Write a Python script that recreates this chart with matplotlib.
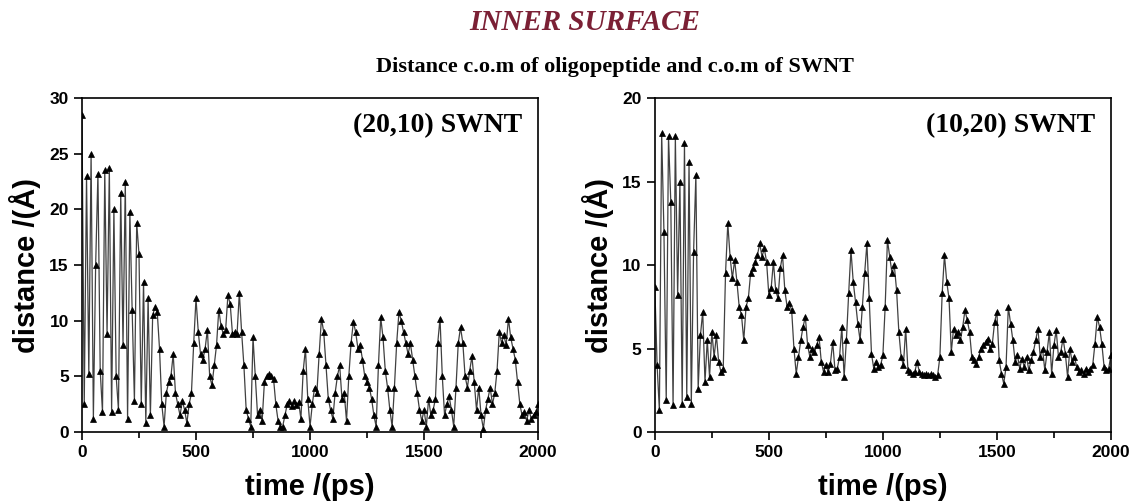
import numpy as np
import matplotlib
matplotlib.use("Agg")
import matplotlib.pyplot as plt
from matplotlib.ticker import MultipleLocator

# time axis (ps), 10 ps steps
time_ps = np.arange(0, 2001, 10)

# (20,10) SWNT, distance in Angstrom
dist_20_10 = [
    28.5, 2.5, 23.0, 5.2, 25.0, 1.2, 15.0, 23.2, 5.5, 1.8,
    23.5, 8.8, 23.7, 1.8, 20.0, 5.0, 2.0, 21.5, 7.8, 22.5,
    1.2, 19.8, 11.0, 2.8, 18.8, 16.0, 2.5, 13.5, 0.8, 12.0,
    1.5, 10.5, 11.2, 10.8, 7.5, 2.5, 0.5, 3.5, 4.5, 5.0,
    7.0, 3.5, 2.5, 1.5, 2.8, 2.0, 0.8, 2.5, 3.5, 8.0,
    12.0, 9.0, 7.0, 6.5, 7.5, 9.2, 5.0, 4.2, 6.0, 7.8,
    11.0, 9.5, 8.8, 9.2, 12.3, 11.5, 8.8, 9.0, 8.8, 12.5,
    9.0, 6.0, 2.0, 1.2, 0.5, 8.5, 5.0, 1.5, 2.0, 1.0,
    4.5, 5.0, 5.2, 5.0, 4.8, 2.5, 1.0, 0.5, 0.5, 1.5,
    2.5, 2.8, 2.3, 2.8, 2.4, 2.7, 1.2, 5.5, 7.5, 3.0,
    0.5, 2.5, 4.0, 3.5, 7.0, 10.2, 9.0, 6.0, 3.0, 2.0,
    1.2, 3.5, 5.0, 6.0, 3.0, 3.5, 1.0, 5.0, 8.0, 9.9,
    9.0, 7.5, 7.8, 6.5, 5.0, 4.5, 4.0, 3.0, 1.5, 0.5,
    6.0, 10.3, 8.5, 5.5, 4.0, 2.0, 0.5, 4.0, 8.0, 10.8,
    10.0, 9.0, 8.0, 7.0, 8.0, 6.5, 5.0, 3.5, 2.0, 1.0,
    2.0, 0.5, 3.0, 1.5, 2.0, 3.0, 8.0, 10.2, 5.0, 1.5,
    2.5, 3.2, 2.0, 0.5, 4.0, 8.0, 9.4, 8.0, 5.0, 4.0,
    5.5, 6.8, 4.5, 2.0, 4.0, 1.5, 0.3, 2.0, 3.0, 4.0,
    2.5, 3.5, 5.5, 9.0, 8.0, 8.7, 7.8, 10.2, 8.5, 7.5,
    6.5, 4.5, 2.5, 1.5, 1.8, 1.0, 2.0, 1.2, 1.5, 1.8,
    2.5,
]

# (10,20) SWNT, distance in Angstrom
dist_10_20 = [
    8.7, 4.0, 1.3, 17.9, 12.0, 1.9, 17.7, 13.8, 1.6, 17.7,
    8.2, 15.0, 1.7, 17.3, 2.1, 16.2, 1.7, 10.8, 15.4, 2.6,
    5.8, 7.2, 3.0, 5.5, 3.3, 6.0, 4.5, 5.8, 4.2, 3.6,
    3.8, 9.5, 12.5, 10.5, 9.2, 10.3, 9.0, 7.5, 7.0, 5.5,
    7.5, 8.0, 9.5, 9.8, 10.2, 10.6, 11.3, 10.5, 11.0, 10.2,
    8.2, 8.6, 10.2, 8.5, 8.0, 9.8, 10.6, 8.5, 7.5, 7.7,
    7.3, 5.0, 3.5, 4.5, 5.5, 6.3, 6.9, 5.2, 4.5, 5.0,
    4.8, 5.2, 5.7, 4.2, 3.6, 4.0, 3.6, 4.1, 5.4, 3.7,
    3.8, 4.5, 6.3, 3.3, 5.5, 8.3, 10.9, 9.0, 7.8, 6.5,
    5.5, 7.5, 9.5, 11.3, 8.0, 4.7, 3.8, 4.2, 3.9, 4.0,
    4.6, 7.5, 11.5, 10.5, 9.5, 10.0, 8.5, 6.0, 4.5, 4.0,
    6.2, 3.7, 3.6, 3.5, 3.6, 4.2, 3.6, 3.5, 3.4, 3.5,
    3.4, 3.5, 3.4, 3.3, 3.4, 4.5, 8.3, 10.6, 9.0, 8.0,
    4.8, 6.2, 5.8, 6.0, 5.5, 6.3, 7.3, 6.7, 6.0, 4.5,
    4.3, 4.1, 4.5, 5.0, 5.2, 5.4, 5.6, 5.0, 5.3, 6.6,
    7.2, 4.3, 3.5, 2.9, 3.9, 7.5, 6.5, 5.5, 4.2, 4.6,
    3.8, 4.4, 3.9, 4.5, 3.7, 4.3, 4.8, 5.5, 6.2, 4.5,
    5.0, 3.7, 4.8, 6.0, 3.5, 5.2, 6.1, 4.5, 4.8, 5.6,
    4.7, 3.3, 5.0, 4.2, 4.5, 3.9, 3.6, 3.7, 3.5, 3.8,
    3.6, 3.8, 4.0, 5.3, 6.9, 6.3, 5.3, 3.9, 3.7, 3.8,
    4.6,
]

panels = [
    (dist_20_10, "(20,10) SWNT", 30),
    (dist_10_20, "(10,20) SWNT", 20),
]

sans = ["Liberation Sans", "DejaVu Sans"]
serif = ["Liberation Serif", "DejaVu Serif"]

fig = plt.figure(figsize=(11.29, 5.03), dpi=100)
fig.text(0.518, 0.956, "INNER SURFACE", ha="center", va="center",
         family=serif, weight="bold", style="italic", size=21, color="#7b2035")
fig.text(0.545, 0.866, "Distance c.o.m of oligopeptide and c.o.m of SWNT",
         ha="center", va="center", family=serif, weight="bold", size=16)

lefts = [0.0726, 0.580]
for (vals, label, ymax), left in zip(panels, lefts):
    ax = fig.add_axes([left, 0.141, 0.404, 0.664])
    ax.plot(time_ps, vals, color="#404040", lw=0.9, marker="^",
            markersize=4.5, markerfacecolor="black", markeredgecolor="black",
            markeredgewidth=0.5)
    ax.set_xlim(0, 2000)
    ax.set_ylim(0, ymax)
    ax.xaxis.set_major_locator(MultipleLocator(500))
    ax.xaxis.set_minor_locator(MultipleLocator(250))
    ax.yaxis.set_major_locator(MultipleLocator(5))
    ax.tick_params(which="both", direction="out", top=False, right=False,
                   width=1.2, labelsize=12.5)
    ax.tick_params(which="major", length=6)
    ax.tick_params(which="minor", length=4)
    for lab in ax.get_xticklabels() + ax.get_yticklabels():
        lab.set_family(sans)
        lab.set_weight("bold")
    for sp in ax.spines.values():
        sp.set_linewidth(1.2)
    ax.set_xlabel("time /(ps)", family=sans, weight="bold", size=21, labelpad=9)
    ax.set_ylabel("distance /(Å)", family=sans, weight="bold", size=21, labelpad=6)
    ax.text(0.965, 0.955, label, transform=ax.transAxes, ha="right", va="top",
            family=serif, weight="bold", size=20)

fig.savefig("out.png", dpi=100)
